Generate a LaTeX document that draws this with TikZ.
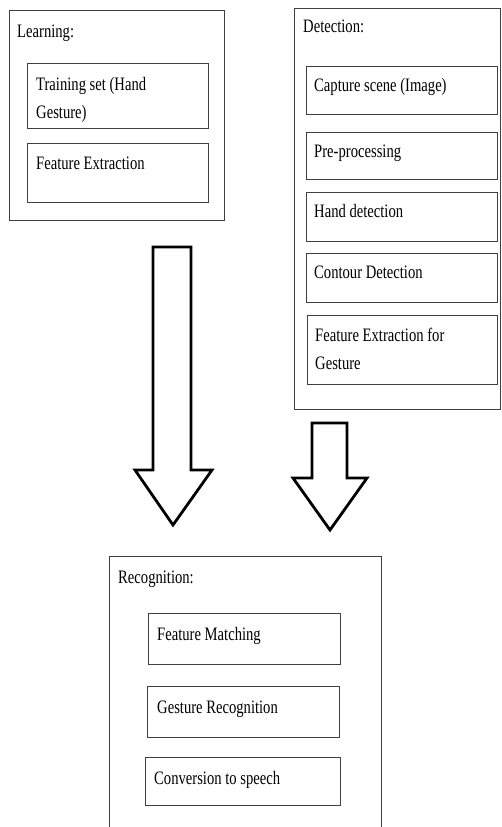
\documentclass[tikz,border=0pt]{standalone}
\usepackage{fontspec}
\setmainfont{Liberation Serif}[FakeStretch=0.77]
\usepackage{tikz}
\usetikzlibrary{positioning}

\begin{document}
\begin{tikzpicture}[x=1pt, y=-1pt,
  box/.style={draw=black!75, line width=1.1pt, anchor=north west, inner sep=0pt},
  txt/.style={anchor=base west, inner sep=0pt, font=\fontsize{19}{28}\selectfont},
  txtwide/.style={txt, text width=175pt, align=flush left},
  fatarrow/.style={draw=black, line width=2.8pt, line join=miter}]
\clip (0,0) rectangle (502,827);

% Learning
\node[box, minimum width=215pt, minimum height=210pt] (learn) at (9,10) {};
\node[txt] (learnlbl) at ([xshift=8pt,yshift=-27pt]learn.north west) {Learning:};
\node[box, minimum width=181pt, minimum height=65pt] (train) at (27,63) {};
\node[txtwide] (traintxt) at ([xshift=9pt,yshift=-27pt]train.north west) {Training set (Hand\\Gesture)};
\node[box, minimum width=181pt, minimum height=59pt] (lfeat) at (27,143) {};
\node[txt] (lfeattxt) at ([xshift=9pt,yshift=-26pt]lfeat.north west) {Feature Extraction};

% Detection
\node[box, minimum width=206pt, minimum height=401pt] (detect) at (294,8) {};
\node[txt] (detectlbl) at ([xshift=9pt,yshift=-24pt]detect.north west) {Detection:};
\node[box, minimum width=191pt, minimum height=48pt] (capture) at (306,66) {};
\node[txt] (capturetxt) at ([xshift=8pt,yshift=-25pt]capture.north west) {Capture scene (Image)};
\node[box, minimum width=191pt, minimum height=47pt] (prep) at (306,132) {};
\node[txt] (preptxt) at ([xshift=8pt,yshift=-25pt]prep.north west) {Pre-processing};
\node[box, minimum width=191pt, minimum height=49pt] (hand) at (306,192) {};
\node[txt] (handtxt) at ([xshift=8pt,yshift=-25pt]hand.north west) {Hand detection};
\node[box, minimum width=191pt, minimum height=49pt] (contour) at (306,253) {};
\node[txt] (contourtxt) at ([xshift=8pt,yshift=-25pt]contour.north west) {Contour Detection};
\node[box, minimum width=190pt, minimum height=69pt] (dfeat) at (307,315) {};
\node[txtwide] (dfeattxt) at ([xshift=8pt,yshift=-26pt]dfeat.north west) {Feature Extraction for\\Gesture};

% block arrows
\draw[fatarrow] (153,247) -- (191,247) -- (191,470) -- (212,470) -- (173,525)
  -- (135,470) -- (153,470) -- cycle;
\draw[fatarrow] (312,423) -- (347,423) -- (347,478) -- (367,478) -- (330,530)
  -- (293,478) -- (312,478) -- cycle;

% Recognition
\node[box, minimum width=272pt, minimum height=300pt] (recog) at (109,556) {};
\node[txt] (recoglbl) at ([xshift=9pt,yshift=-27pt]recog.north west) {Recognition:};
\node[box, minimum width=192pt, minimum height=51pt] (match) at (148,613) {};
\node[txt] (matchtxt) at ([xshift=9pt,yshift=-27pt]match.north west) {Feature Matching};
\node[box, minimum width=192pt, minimum height=51pt] (grec) at (147,686) {};
\node[txt] (grectxt) at ([xshift=10pt,yshift=-27pt]grec.north west) {Gesture Recognition};
\node[box, minimum width=195pt, minimum height=48pt] (speech) at (145,757) {};
\node[txt] (speechtxt) at ([xshift=9pt,yshift=-27pt]speech.north west) {Conversion to speech};
\end{tikzpicture}
\end{document}
